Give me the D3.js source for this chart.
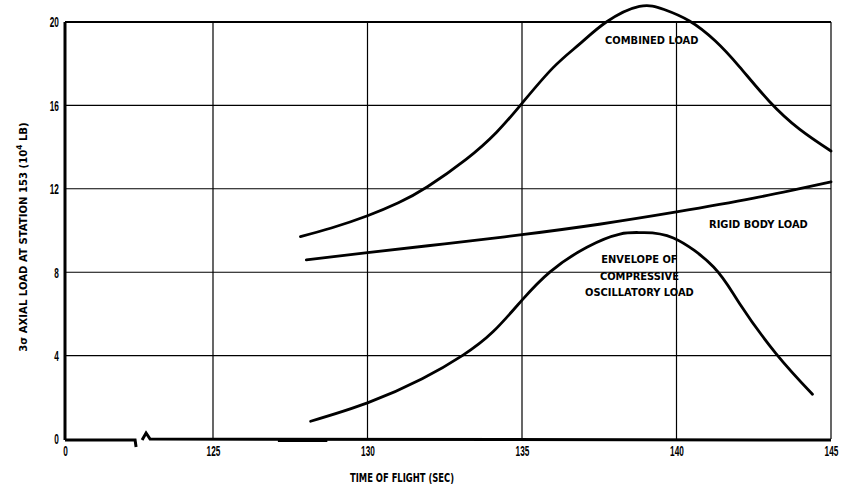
<!DOCTYPE html>
<html>
<head>
<meta charset="utf-8">
<script src="https://cdn.jsdelivr.net/npm/d3@7"></script>
<style>
  body { margin: 0; background: #fff; }
  text { font-family: "DejaVu Sans", sans-serif; font-weight: bold; fill: #000; }
  .tick text { font-family: "Liberation Sans", "DejaVu Sans", sans-serif; }
</style>
</head>
<body>
<svg id="chart" width="850" height="493"></svg>
<script>
// values (time in sec, load in 10^4 lb)
var xTicks = [0, 125, 130, 135, 140, 145];
var yTicks = [0, 4, 8, 12, 16, 20];

var combinedT = [127.83, 128.83, 130, 131, 131.94, 133.19, 134.17, 135, 136, 136.87, 137.73, 138.8, 139.6, 140.42, 141.25, 142.04, 143, 143.98, 145];
var combinedV = [9.71, 10.12, 10.71, 11.33, 12.1, 13.41, 14.7, 16.1, 17.8, 18.95, 20.0, 20.75, 20.6, 20.05, 19.1, 17.85, 16.2, 14.86, 13.81];

var rigidT = [128.02, 130, 132.5, 135, 137.5, 140, 142.5, 145];
var rigidV = [8.59, 8.94, 9.36, 9.8, 10.3, 10.89, 11.55, 12.33];

var envT = [128.16, 130, 131.77, 133.08, 134.06, 135, 135.92, 137.1, 138.17, 138.9, 139.9, 141.2, 142.04, 143.22, 144.4];
var envV = [0.85, 1.73, 2.89, 4.01, 5.14, 6.66, 8.03, 9.2, 9.83, 9.9, 9.64, 8.25, 6.5, 4.1, 2.15];

var labels = [
  {t: 139.2, v: 18.95, lines: ["COMBINED LOAD"]},
  {t: 142.65, v: 10.1, lines: ["RIGID BODY LOAD"]},
  {t: 138.8, v: 8.44, lines: ["ENVELOPE OF", "COMPRESSIVE", "OSCILLATORY LOAD"]}
];

var m = {top: 22, left: 65, right: 19, bottom: 54};
var W = 850 - m.left - m.right, H = 493 - m.top - m.bottom;
var breakGap = 148; // axis is broken between 0 and 125

var svg = d3.select("#chart");
var g = svg.append("g").attr("transform", "translate(" + m.left + "," + m.top + ")");

var x = d3.scaleLinear().domain([0, 125, 145]).range([0, breakGap, W]);
var y = d3.scaleLinear().domain([0, 20]).range([H, 0]);

// grid
g.selectAll(".hg").data(yTicks.slice(1)).enter().append("line")
  .attr("x1", 0).attr("x2", W)
  .attr("y1", function(d){ return y(d); }).attr("y2", function(d){ return y(d); })
  .attr("stroke", "#000").attr("stroke-width", function(d){ return d == 20 ? 2 : 1.1; });
g.selectAll(".vg").data(xTicks.slice(1)).enter().append("line")
  .attr("x1", function(d){ return x(d); }).attr("x2", function(d){ return x(d); })
  .attr("y1", 0).attr("y2", H)
  .attr("stroke", "#000").attr("stroke-width", 1.2);

// left axis line
g.append("line").attr("x1", 0).attr("x2", 0).attr("y1", 0).attr("y2", H + 1)
  .attr("stroke", "#000").attr("stroke-width", 3);

// bottom axis with break mark
var b0 = x(0), b1 = x(125);
var bx = b0 + (b1 - b0) * 0.46;
var bottom = "M" + b0 + "," + (H + 1) + " L" + (bx + 2) + "," + (H + 1) +
  " L" + (bx + 3) + "," + (H + 8) +
  " M" + (bx + 9) + "," + (H + 1) + " L" + (bx + 13) + "," + (H - 6) +
  " L" + (bx + 17) + "," + H + " L" + W + "," + (H + 1);
g.append("path").attr("d", bottom).attr("fill", "none")
  .attr("stroke", "#000").attr("stroke-width", 3).attr("stroke-linejoin", "miter");
g.append("line").attr("x1", x(127.1)).attr("x2", x(128.7)).attr("y1", H + 1.5).attr("y2", H + 1.5)
  .attr("stroke", "#000").attr("stroke-width", 3);

// tick labels (tall, narrow digits like the original lettering)
var xAxis = d3.axisBottom(x).tickValues(xTicks).tickSize(0).tickPadding(6)
  .tickFormat(function(d){ return String(d); });
var ga = g.append("g").attr("transform", "translate(0," + H + ")").call(xAxis);
ga.select(".domain").remove();
ga.selectAll("text").attr("font-size", 15).attr("font-family", null)
  .attr("transform", "scale(0.55,1)");

var yAxis = d3.axisLeft(y).tickValues(yTicks).tickSize(0).tickPadding(11);
var gy = g.append("g").call(yAxis);
gy.select(".domain").remove();
gy.selectAll("text").attr("font-size", 15).attr("font-family", null)
  .attr("transform", "scale(0.55,1)");

// curves
var line = d3.line().curve(d3.curveNatural)
  .x(function(d){ return x(d[0]); }).y(function(d){ return y(d[1]); });
function pairs(ts, vs){ return ts.map(function(t, i){ return [t, vs[i]]; }); }
[pairs(combinedT, combinedV), pairs(rigidT, rigidV), pairs(envT, envV)].forEach(function(s){
  g.append("path").datum(s).attr("d", line).attr("fill", "none")
    .attr("stroke", "#000").attr("stroke-width", 2.8).attr("stroke-linecap", "round");
});

// annotations
labels.forEach(function(l){
  var tx = g.append("g").attr("transform", "translate(" + x(l.t) + "," + y(l.v) + ") scale(0.9,1)")
    .append("text").attr("text-anchor", "middle").attr("font-size", 11);
  l.lines.forEach(function(s, i){
    tx.append("tspan").attr("x", 0).attr("dy", i == 0 ? 0 : 16.5).text(s);
  });
});

// titles
svg.append("text").attr("transform", "translate(402,482) scale(0.7,1)").attr("text-anchor", "middle")
  .attr("font-size", 12).text("TIME OF FLIGHT (SEC)");
var yt = svg.append("text").attr("transform", "translate(27,237) rotate(-90) scale(0.92,1)")
  .attr("text-anchor", "middle").attr("font-size", 11);
yt.append("tspan").text("3\u03c3 AXIAL LOAD AT STATION 153  (10");
yt.append("tspan").attr("dy", -5).attr("font-size", 8).text("4");
yt.append("tspan").attr("dy", 5).text(" LB)");
</script>
</body>
</html>
